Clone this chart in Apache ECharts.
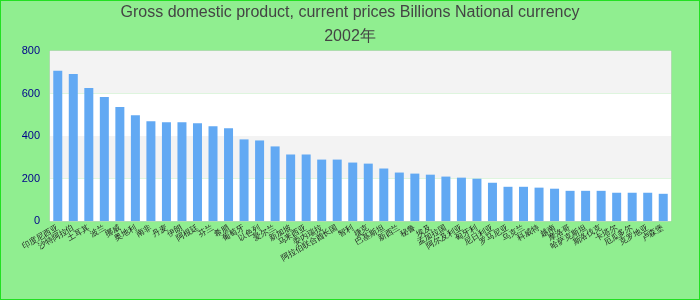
<!DOCTYPE html>
<html>
<head>
<meta charset="utf-8">
<script src="https://cdn.jsdelivr.net/npm/echarts@6/dist/echarts.min.js"></script>
<style>
  html, body { margin: 0; padding: 0; }
  #main { width: 700px; height: 300px; box-sizing: border-box; border: 1px solid #22e022; background: #90ee90; }
</style>
</head>
<body>
<div id="main"></div>
<script>
// 2002年 GDP，按数值从大到小
var countries = ['印度尼西亚', '沙特阿拉伯', '土耳其', '波兰', '挪威', '奥地利', '南非', '丹麦', '伊朗', '阿根廷',
  '芬兰', '希腊', '葡萄牙', '以色列', '爱尔兰', '新加坡', '马来西亚', '委内瑞拉', '阿拉伯联合酋长国', '智利',
  '捷克', '巴基斯坦', '新西兰', '秘鲁', '埃及', '孟加拉国', '阿尔及利亚', '匈牙利', '尼日利亚', '罗马尼亚',
  '乌克兰', '科威特', '越南', '摩洛哥', '哈萨克斯坦', '斯洛伐克', '卡塔尔', '厄瓜多尔', '克罗地亚', '卢森堡'];
var gdpValues = [707, 692, 626, 583, 536, 498, 470, 465, 465, 460,
  446, 436, 384, 379, 351, 313, 313, 289, 289, 275,
  270, 247, 228, 223, 218, 209, 204, 199, 180, 161,
  161, 157, 152, 142, 142, 142, 133, 133, 133, 128];
var yTicks = [0, 200, 400, 600, 800];

var chart = echarts.init(document.getElementById('main'));
chart.setOption({
  animation: false,
  title: {
    text: 'Gross domestic product, current prices Billions National currency\n2002年',
    left: 'center',
    top: 0,
    padding: 0,
    textStyle: {
      fontFamily: 'Liberation Sans',
      fontSize: 16,
      fontWeight: 'normal',
      color: '#444',
      lineHeight: 24
    }
  },
  grid: {
    show: true,
    left: 49,
    right: 28,
    top: 50,
    bottom: 78,
    borderColor: '#ccc',
    borderWidth: 1,
    backgroundColor: 'transparent'
  },
  xAxis: {
    type: 'category',
    data: countries,
    axisLine: { show: false },
    axisTick: { show: false },
    axisLabel: {
      interval: 0,
      rotate: 30,
      fontSize: 8,
      margin: 6,
      color: '#222'
    }
  },
  yAxis: {
    type: 'value',
    min: yTicks[0],
    max: yTicks[yTicks.length - 1],
    interval: 200,
    axisLine: { show: false },
    axisTick: { show: false },
    splitLine: { show: false },
    splitArea: { show: true, areaStyle: { color: ['#ffffff', '#f3f3f3'] } },
    axisLabel: {
      fontFamily: 'Liberation Sans',
      fontSize: 11,
      color: '#00008b',
      margin: 10
    }
  },
  series: [{
    type: 'bar',
    data: gdpValues,
    barWidth: 9,
    itemStyle: { color: '#62a9f3' }
  }]
});
</script>
</body>
</html>
